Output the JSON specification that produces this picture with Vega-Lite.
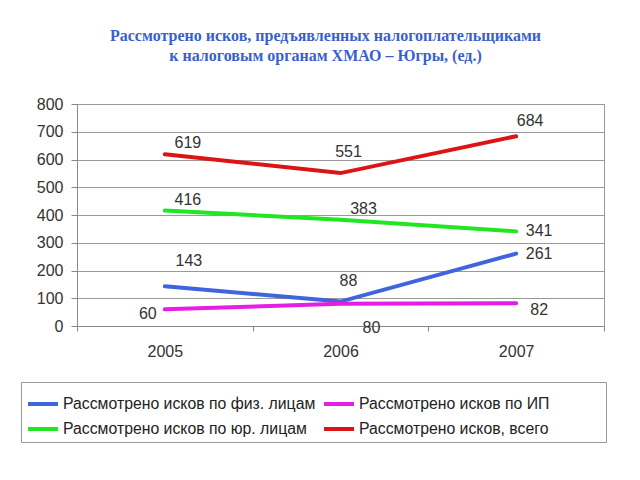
{
  "$schema": "https://vega.github.io/schema/vega-lite/v6.json",
  "width": 527,
  "height": 222,
  "autosize": {"type": "none"},
  "padding": {"left": 77, "top": 104, "right": 36, "bottom": 154},
  "background": "white",
  "title": {
    "text": ["Рассмотрено исков, предъявленных налогоплательщиками", "к налоговым органам ХМАО – Югры, (ед.)"],
    "font": "Liberation Serif",
    "fontSize": 16,
    "fontWeight": "bold",
    "color": "#3A5FCD",
    "anchor": "middle",
    "offset": 32,
    "dx": -15,
    "lineHeight": 20
  },
  "config": {
    "view": {"stroke": "#999", "strokeWidth": 1},
    "font": "Liberation Sans",
    "legend": {
      "orient": "none",
      "legendX": -56,
      "legendY": 278,
      "columns": 2,
      "gridAlign": "all",
      "symbolType": "stroke",
      "symbolSize": 900,
      "symbolStrokeWidth": 4,
      "labelFontSize": 15.8,
      "labelFont": "Liberation Sans",
      "labelColor": "#222",
      "labelOffset": 3,
      "labelLimit": 400,
      "columnPadding": 0,
      "rowPadding": -1,
      "padding": 5,
      "strokeColor": "#999",
      "titleOrient": "right",
      "titlePadding": 52,
      "titleFontSize": 12
    }
  },
  "data": {
    "values": [
      {"year": "2005", "k": "fiz", "series": "Рассмотрено исков по физ. лицам", "value": 143},
      {"year": "2006", "k": "fiz", "series": "Рассмотрено исков по физ. лицам", "value": 88},
      {"year": "2007", "k": "fiz", "series": "Рассмотрено исков по физ. лицам", "value": 261},
      {"year": "2005", "k": "ip", "series": "Рассмотрено исков по ИП", "value": 60},
      {"year": "2006", "k": "ip", "series": "Рассмотрено исков по ИП", "value": 80},
      {"year": "2007", "k": "ip", "series": "Рассмотрено исков по ИП", "value": 82},
      {"year": "2005", "k": "yur", "series": "Рассмотрено исков по юр. лицам", "value": 416},
      {"year": "2006", "k": "yur", "series": "Рассмотрено исков по юр. лицам", "value": 383},
      {"year": "2007", "k": "yur", "series": "Рассмотрено исков по юр. лицам", "value": 341},
      {"year": "2005", "k": "all", "series": "Рассмотрено исков, всего", "value": 619},
      {"year": "2006", "k": "all", "series": "Рассмотрено исков, всего", "value": 551},
      {"year": "2007", "k": "all", "series": "Рассмотрено исков, всего", "value": 684}
    ]
  },
  "encoding": {
    "x": {
      "field": "year",
      "type": "ordinal",
      "scale": {"type": "band", "paddingInner": 0, "paddingOuter": 0},
      "axis": {
        "title": null,
        "labelAngle": 0,
        "tickBand": "extent",
        "tickSize": 5,
        "tickColor": "#888",
        "domainColor": "#888",
        "grid": false,
        "labelPadding": 12,
        "labelFontSize": 16,
        "labelColor": "#333",
        "labelFont": "Liberation Sans"
      }
    },
    "y": {
      "field": "value",
      "type": "quantitative",
      "scale": {"domain": [0, 800], "nice": false},
      "axis": {
        "title": null,
        "values": [0, 100, 200, 300, 400, 500, 600, 700, 800],
        "grid": true,
        "gridColor": "#999",
        "domainColor": "#888",
        "tickColor": "#888",
        "tickSize": 6,
        "labelPadding": 8,
        "labelFontSize": 16,
        "labelColor": "#333",
        "labelFont": "Liberation Sans"
      }
    }
  },
  "layer": [
    {
      "mark": {"type": "line", "strokeWidth": 4, "strokeCap": "round"},
      "encoding": {
        "color": {
          "field": "series",
          "type": "nominal",
          "sort": null,
          "scale": {
            "domain": ["Рассмотрено исков по физ. лицам", "Рассмотрено исков по юр. лицам", "Рассмотрено исков по ИП", "Рассмотрено исков, всего"],
            "range": ["#3E64DE", "#22E622", "#E51EE5", "#DC1414"]
          },
          "legend": {"title": "\u00a0"}
        }
      }
    },
    {
      "transform": [{"filter": "(datum.k=='all' || datum.k=='yur') && datum.year=='2005' || datum.k=='yur' && datum.year=='2006'"}],
      "mark": {"type": "text", "dx": 23, "dy": -11, "fontSize": 16, "color": "#333"},
      "encoding": {"text": {"field": "value"}}
    },
    {
      "transform": [{"filter": "(datum.k=='all' || datum.k=='fiz') && datum.year=='2006'"}],
      "mark": {"type": "text", "dx": 8, "dy": -21, "fontSize": 16, "color": "#333"},
      "encoding": {"text": {"field": "value"}}
    },
    {
      "transform": [{"filter": "datum.k=='all' && datum.year=='2007'"}],
      "mark": {"type": "text", "dx": 14, "dy": -15, "fontSize": 16, "color": "#333"},
      "encoding": {"text": {"field": "value"}}
    },
    {
      "transform": [{"filter": "(datum.k=='yur' || datum.k=='fiz') && datum.year=='2007'"}],
      "mark": {"type": "text", "dx": 23, "dy": 0, "fontSize": 16, "color": "#333"},
      "encoding": {"text": {"field": "value"}}
    },
    {
      "transform": [{"filter": "datum.k=='ip' && datum.year=='2007'"}],
      "mark": {"type": "text", "dx": 23, "dy": 7, "fontSize": 16, "color": "#333"},
      "encoding": {"text": {"field": "value"}}
    },
    {
      "transform": [{"filter": "datum.k=='fiz' && datum.year=='2005'"}],
      "mark": {"type": "text", "dx": 24, "dy": -25, "fontSize": 16, "color": "#333"},
      "encoding": {"text": {"field": "value"}}
    },
    {
      "transform": [{"filter": "datum.k=='ip' && datum.year=='2005'"}],
      "mark": {"type": "text", "dx": -17, "dy": 5, "fontSize": 16, "color": "#333"},
      "encoding": {"text": {"field": "value"}}
    },
    {
      "transform": [{"filter": "datum.k=='ip' && datum.year=='2006'"}],
      "mark": {"type": "text", "dx": 31, "dy": 24, "fontSize": 16, "color": "#333"},
      "encoding": {"text": {"field": "value"}}
    }
  ]
}
